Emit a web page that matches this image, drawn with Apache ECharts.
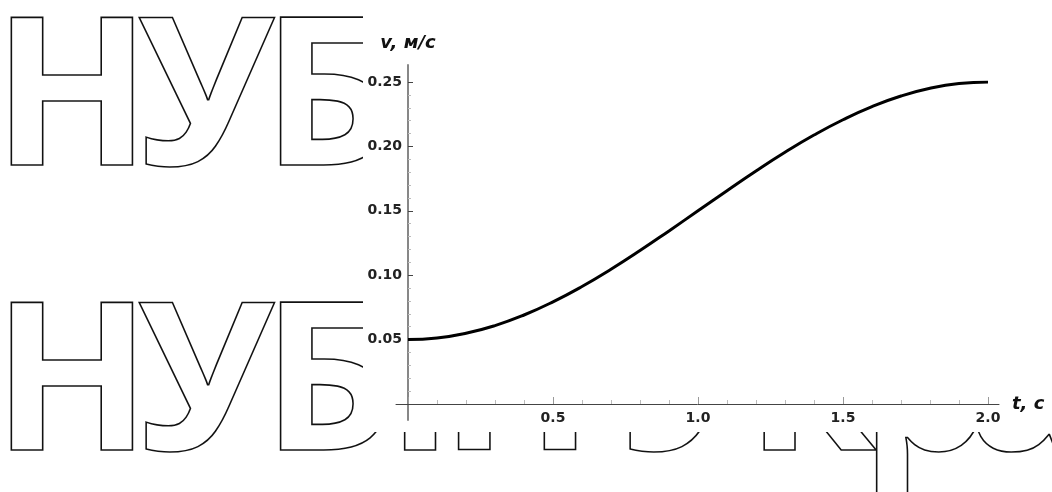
<!DOCTYPE html>
<html><head><meta charset="utf-8">
<script src="https://cdn.jsdelivr.net/npm/echarts@6/dist/echarts.min.js"></script>
<style>html,body{margin:0;padding:0;background:#fff}#c{width:1052px;height:492px}</style>
</head><body><div id="c"></div>
<script>
// data
const tValues = [0,0.1,0.2,0.3,0.4,0.5,0.6,0.7,0.8,0.9,1.0,1.1,1.2,1.3,1.4,1.5,1.6,1.7,1.8,1.9,2.0];
const vValues = [0.0500,0.0512,0.0549,0.0609,0.0691,0.0793,0.0912,0.1046,0.1191,0.1344,0.1500,0.1656,0.1809,0.1954,0.2088,0.2207,0.2309,0.2391,0.2451,0.2488,0.2500];
const xAxisTitle = 't, c';
const yAxisTitle = 'v, м/с';
// watermark text
const wmLetters = ['Н','У','Б','і','П','У','к','р','а'];
const wmCenters = [72,206,328,420,517,690,812,926,1030];
const wmRowsY = [106,391];

const chart = echarts.init(document.getElementById('c'), null, {renderer:'canvas'});
const wm = [];
wmRowsY.forEach(function(y){
  wmLetters.forEach(function(ch,i){
    wm.push({type:'text', x:wmCenters[i], y:y, z:0, silent:true,
      style:{text:ch, font:'bold 207px "Open Sans"', fill:'transparent', stroke:'#111', lineWidth:1.6,
             align:'center', verticalAlign:'middle', textAlign:'center', textVerticalAlign:'middle'}});
  });
});
wm.push({type:'rect', z:1, silent:true, shape:{x:363,y:0,width:689,height:432}, style:{fill:'#fff'}});

const lblStyle = {fontFamily:'DejaVu Sans', fontWeight:'bold', fontSize:14, color:'#222'};
chart.setOption({
  animation:false,
  backgroundColor:'#fff',
  graphic:{elements:wm},
  grid:[
    {left:408, right:64, top:82, bottom:88},
    {left:396, right:53, top:65, bottom:72}
  ],
  xAxis:[
    {type:'value', gridIndex:0, min:0, max:2, interval:0.5, z:5,
     axisLine:{show:false}, splitLine:{show:false},
     axisTick:{show:true, inside:true, length:7, lineStyle:{color:'#999'}},
     minorTick:{show:true, splitNumber:5, length:4, lineStyle:{color:'#bbb'}},
     axisLabel:Object.assign({margin:7, formatter:function(v){return v===0?'':v.toFixed(1);}}, lblStyle),
     name:xAxisTitle, nameLocation:'end', nameGap:24,
     nameTextStyle:{fontFamily:'DejaVu Sans', fontWeight:'bold', fontStyle:'italic', fontSize:18, color:'#111', align:'left', verticalAlign:'middle', padding:[6,0,0,0]}},
    {type:'value', gridIndex:1, min:-0.0414, max:2.0379, z:5,
     axisLine:{show:true, onZero:true, lineStyle:{color:'#444', width:1}},
     axisTick:{show:false}, axisLabel:{show:false}, splitLine:{show:false}}
  ],
  yAxis:[
    {type:'value', gridIndex:0, min:0, max:0.25, interval:0.05, z:5,
     axisLine:{show:false}, splitLine:{show:false},
     axisTick:{show:true, inside:true, length:5, lineStyle:{color:'#444'}},
     minorTick:{show:true, splitNumber:5, length:3, lineStyle:{color:'#bbb'}},
     axisLabel:Object.assign({margin:6, formatter:function(v){return v===0?'':v.toFixed(2);}}, lblStyle),
     name:yAxisTitle, nameLocation:'end', nameGap:30,
     nameTextStyle:{fontFamily:'DejaVu Sans', fontWeight:'bold', fontStyle:'italic', fontSize:18, color:'#111', align:'center'}},
    {type:'value', gridIndex:1, min:-0.01242, max:0.2632, z:5,
     axisLine:{show:true, onZero:true, lineStyle:{color:'#7a7a7a', width:1.8}},
     axisTick:{show:false}, axisLabel:{show:false}, splitLine:{show:false}}
  ],
  series:[{
    type:'line', xAxisIndex:0, yAxisIndex:0, z:6,
    data:tValues.map(function(t,i){return [t, vValues[i]];}),
    showSymbol:false, symbol:'none', smooth:0.5,
    lineStyle:{color:'#000', width:3}
  }]
});
</script></body></html>
